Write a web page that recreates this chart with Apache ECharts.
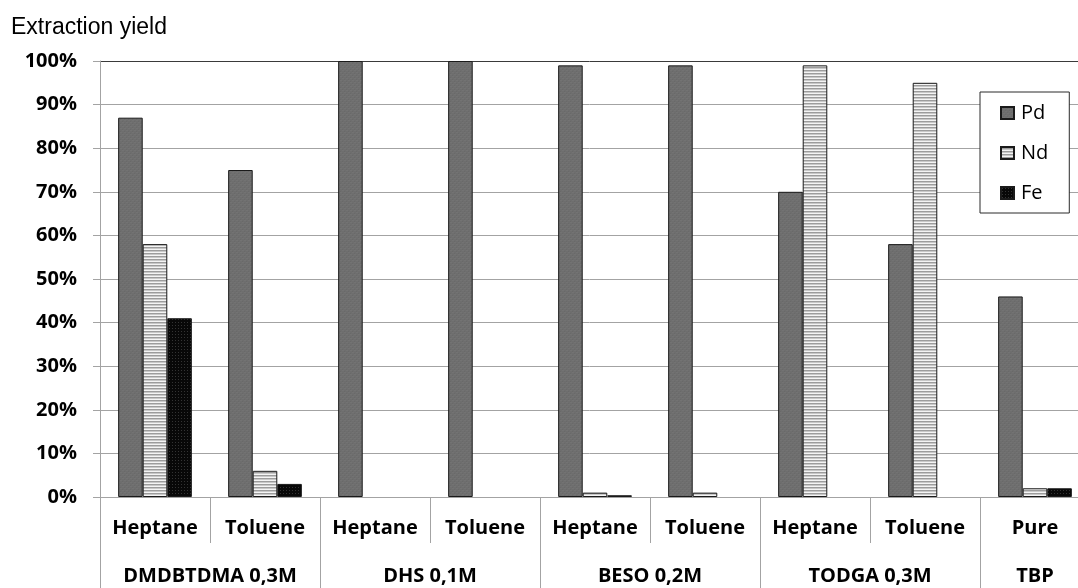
<!DOCTYPE html>
<html>
<head>
<meta charset="utf-8">
<script src="https://cdn.jsdelivr.net/npm/echarts@6/dist/echarts.min.js"></script>
<style>
html,body{margin:0;padding:0;background:#fff;}
#chart{width:1078px;height:588px;}
</style>
</head>
<body>
<div id="chart"></div>
<script>
// ---- data ----
const categories = ['Heptane','Toluene','Heptane','Toluene','Heptane','Toluene','Heptane','Toluene','Pure'];
const groups = ['DMDBTDMA 0,3M','DHS 0,1M','BESO 0,2M','TODGA 0,3M','TBP'];
const groupSizes = [2,2,2,2,1];
const seriesNames = ['Pd','Nd','Fe'];
const pd = [87,75,100,100,99,99,70,58,46];
const nd = [58,6,0,0,1,1,99,95,2];
const fe = [41,3,0,0,0.4,0,0,0,2];
const yMin = 0, yMax = 100, yInterval = 10;

// ---- patterns ----
function makeTile(w, h, draw){
  const c = document.createElement('canvas');
  c.width = w; c.height = h;
  draw(c.getContext('2d'));
  return {image: c, repeat: 'repeat'};
}
const pdFill = makeTile(4, 4, g => {
  g.fillStyle = '#6e6e6e'; g.fillRect(0,0,4,4);
  g.fillStyle = '#737373'; g.fillRect(0,0,2,1); g.fillRect(2,2,2,1);
  g.fillStyle = '#696969'; g.fillRect(2,1,1,1); g.fillRect(0,3,1,1);
});
const ndFill = makeTile(4, 3, g => {
  g.fillStyle = '#f4f4f4'; g.fillRect(0,0,4,1);
  g.fillStyle = '#9c9c9c'; g.fillRect(0,1,4,1);
  g.fillStyle = '#c8c8c8'; g.fillRect(0,2,4,1);
});
const feFill = makeTile(3, 3, g => {
  g.fillStyle = '#080808'; g.fillRect(0,0,3,3);
  g.fillStyle = '#333333'; g.fillRect(1,1,1,1);
});
const fills = [pdFill, ndFill, feFill];

// ---- group axis (half-slot positions, boundaryGap false) ----
const groupAxisData = new Array(categories.length * 2 + 1).fill('');
const groupBoundaries = new Set();
let start = 0;
groups.forEach((name, i) => {
  groupBoundaries.add(start * 2);
  groupAxisData[start * 2 + groupSizes[i]] = name;
  start += groupSizes[i];
});
groupBoundaries.add(start * 2);

const gridColor = '#a3a3a3';
const splitColors = [];
for (let v = yMin; v <= yMax; v += yInterval) splitColors.push(v === yMax ? '#3a3a3a' : gridColor);

function barData(arr){
  return arr.map(v => v === 0 ? {value: 0, itemStyle: {borderWidth: 0}} : v);
}

const chart = echarts.init(document.getElementById('chart'));
chart.setOption({
  animation: false,
  backgroundColor: '#ffffff',
  title: {
    text: 'Extraction yield',
    left: 11, top: 16, padding: 0,
    textStyle: {fontFamily: 'Liberation Sans', fontWeight: 'normal', fontSize: 23, color: '#000', lineHeight: 23}
  },
  legend: {
    orient: 'vertical',
    left: 980, top: 92,
    padding: [11, 21, 10, 20],
    icon: 'rect',
    itemWidth: 13, itemHeight: 12, itemGap: 20,
    borderColor: '#2a2a2a', borderWidth: 1, borderRadius: 0,
    backgroundColor: '#ffffff',
    textStyle: {fontFamily: 'Open Sans', fontSize: 20, color: '#000', lineHeight: 20, padding: [0,0,0,2]},
    data: seriesNames
  },
  grid: {left: 100, top: 61, width: 990, bottom: 91, containLabel: false, outerBoundsMode: 'none'},
  xAxis: [{
    type: 'category',
    data: categories,
    position: 'bottom',
    axisLine: {show: true, lineStyle: {color: gridColor, width: 1}},
    axisTick: {show: true, interval: 0, length: 46, lineStyle: {color: gridColor, width: 1}},
    axisLabel: {interval: 0, margin: 21, fontFamily: 'Open Sans', fontWeight: 'bold', fontSize: 20, lineHeight: 20, color: '#000'},
    splitLine: {show: false}
  }, {
    type: 'category',
    data: groupAxisData,
    boundaryGap: false,
    position: 'bottom',
    axisLine: {show: false},
    axisTick: {show: true, interval: (idx) => groupBoundaries.has(idx), length: 91, lineStyle: {color: gridColor, width: 1}},
    axisLabel: {interval: 0, margin: 69, fontFamily: 'Open Sans', fontWeight: 'bold', fontSize: 20, lineHeight: 20, color: '#000'},
    splitLine: {show: false}
  }],
  yAxis: {
    type: 'value',
    min: yMin, max: yMax, interval: yInterval,
    axisLine: {show: true, lineStyle: {color: gridColor, width: 1}},
    axisTick: {show: true, length: 7, lineStyle: {color: gridColor, width: 1}},
    axisLabel: {margin: 23, formatter: '{value}%', fontFamily: 'Open Sans', fontWeight: 'bold', fontSize: 20, color: '#000'},
    splitLine: {show: true, lineStyle: {color: splitColors, width: 1}}
  },
  series: [pd, nd, fe].map((arr, i) => ({
    name: seriesNames[i],
    type: 'bar',
    xAxisIndex: 0,
    data: barData(arr),
    barGap: '0%',
    barCategoryGap: '33%',
    itemStyle: {color: fills[i], borderColor: '#1a1a1a', borderWidth: 1}
  }))
});
</script>
</body>
</html>
